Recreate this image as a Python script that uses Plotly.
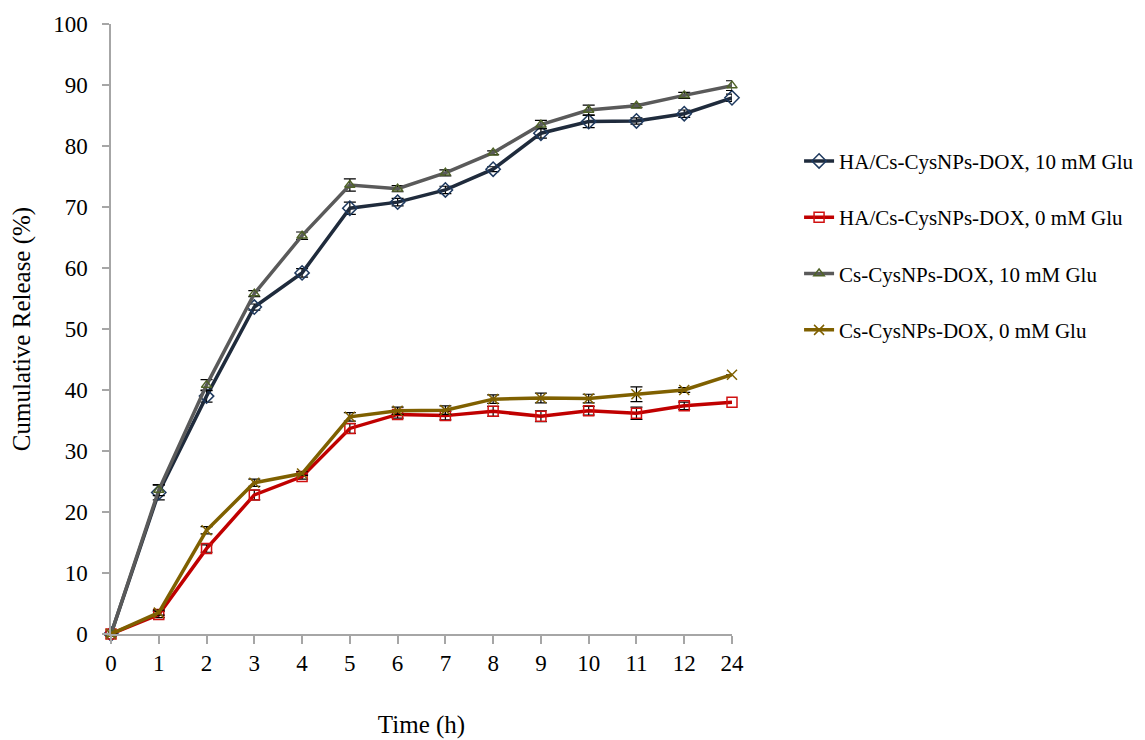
import plotly.graph_objects as go

times = ["0", "1", "2", "3", "4", "5", "6", "7", "8", "9", "10", "11", "12", "24"]

names = [
    "HA/Cs-CysNPs-DOX, 10 mM Glu",
    "HA/Cs-CysNPs-DOX, 0 mM Glu",
    "Cs-CysNPs-DOX, 10 mM Glu",
    "Cs-CysNPs-DOX, 0 mM Glu",
]

ha_10 = [0, 23.2, 39.0, 53.6, 59.2, 69.8, 70.8, 72.8, 76.2, 82.1, 84.0, 84.1, 85.3, 87.9]
ha_10_err = [0, 1.2, 1.0, 0.5, 0.7, 1.0, 0.6, 0.6, 0.4, 0.8, 1.0, 0.5, 0.6, 0.6]

ha_0 = [0, 3.2, 14.0, 22.8, 25.8, 33.7, 36.0, 35.8, 36.5, 35.7, 36.6, 36.2, 37.4, 38.0]
ha_0_err = [0, 0.5, 0.6, 0.8, 0.4, 0.8, 0.6, 0.7, 0.8, 0.9, 0.7, 1.0, 0.6, 0]

cs_10 = [0, 23.6, 40.8, 55.8, 65.3, 73.6, 73.0, 75.6, 78.9, 83.5, 85.9, 86.6, 88.3, 89.9]
cs_10_err = [0, 0.9, 0.9, 0.5, 0.6, 1.0, 0.5, 0.5, 0.3, 0.7, 0.8, 0.3, 0.5, 0.8]

cs_0 = [0, 3.5, 17.0, 24.8, 26.3, 35.6, 36.6, 36.7, 38.5, 38.7, 38.6, 39.3, 40.0, 42.5]
cs_0_err = [0, 0.4, 0.6, 0.6, 0.3, 0.7, 0.6, 0.7, 0.7, 0.8, 0.7, 1.2, 0.4, 0]

series = [
    (ha_10, ha_10_err, "#1F2B3C", "diamond-open", "#1F3A5F", 11),
    (ha_0, ha_0_err, "#C00000", "square-open", "#D01010", 10),
    (cs_10, cs_10_err, "#5A5A5A", "triangle-up-open", "#4F6228", 9),
    (cs_0, cs_0_err, "#7F6000", "x-thin-open", "#7F6000", 10),
]

FONT = "Liberation Serif, Times New Roman, serif"

fig = go.Figure()
for i, (vals, errs, lc, sym, mc, ms) in enumerate(series):
    fig.add_trace(go.Scatter(
        x=times, y=vals, name=names[i], mode="lines+markers",
        legendgroup=f"g{i}",
        line=dict(color=lc, width=3.5),
        marker=dict(symbol=sym, size=ms, color=mc, line=dict(color=mc, width=1.5)),
        error_y=dict(type="data", array=errs, visible=True, color="black",
                     thickness=1.2, width=6),
        cliponaxis=False,
    ))

fig.update_layout(
    width=1145, height=740,
    margin=dict(l=103, r=421, t=16, b=114),
    paper_bgcolor="white", plot_bgcolor="white",
    font=dict(family=FONT, color="black", size=20),
    legend=dict(x=1.108, y=0.8085, xanchor="left", yanchor="top",
                font=dict(family=FONT, size=21, color="black"),
                tracegroupgap=26, bgcolor="rgba(0,0,0,0)"),
    showlegend=True,
)

fig.update_xaxes(
    type="category", range=[0, 13], automargin=False,
    showline=True, linecolor="#A6A6A6", linewidth=1.5,
    ticks="outside", ticklen=8, tickcolor="#A6A6A6", tickwidth=1.5,
    tickfont=dict(family=FONT, size=23, color="black"),
    showgrid=False, zeroline=False,
    title=dict(text="Time (h)", font=dict(family=FONT, size=25, color="black"), standoff=40),
)
fig.update_yaxes(
    range=[0, 100], dtick=10, automargin=False,
    showline=True, linecolor="#A6A6A6", linewidth=1.5,
    ticks="outside", ticklen=7, tickcolor="#A6A6A6", tickwidth=1.5,
    ticklabelstandoff=10,
    tickfont=dict(family=FONT, size=23, color="black"),
    showgrid=False, zeroline=False,
    title=dict(text="Cumulative Release (%)", font=dict(family=FONT, size=25, color="black"), standoff=30),
)

fig.write_html("out.html")
